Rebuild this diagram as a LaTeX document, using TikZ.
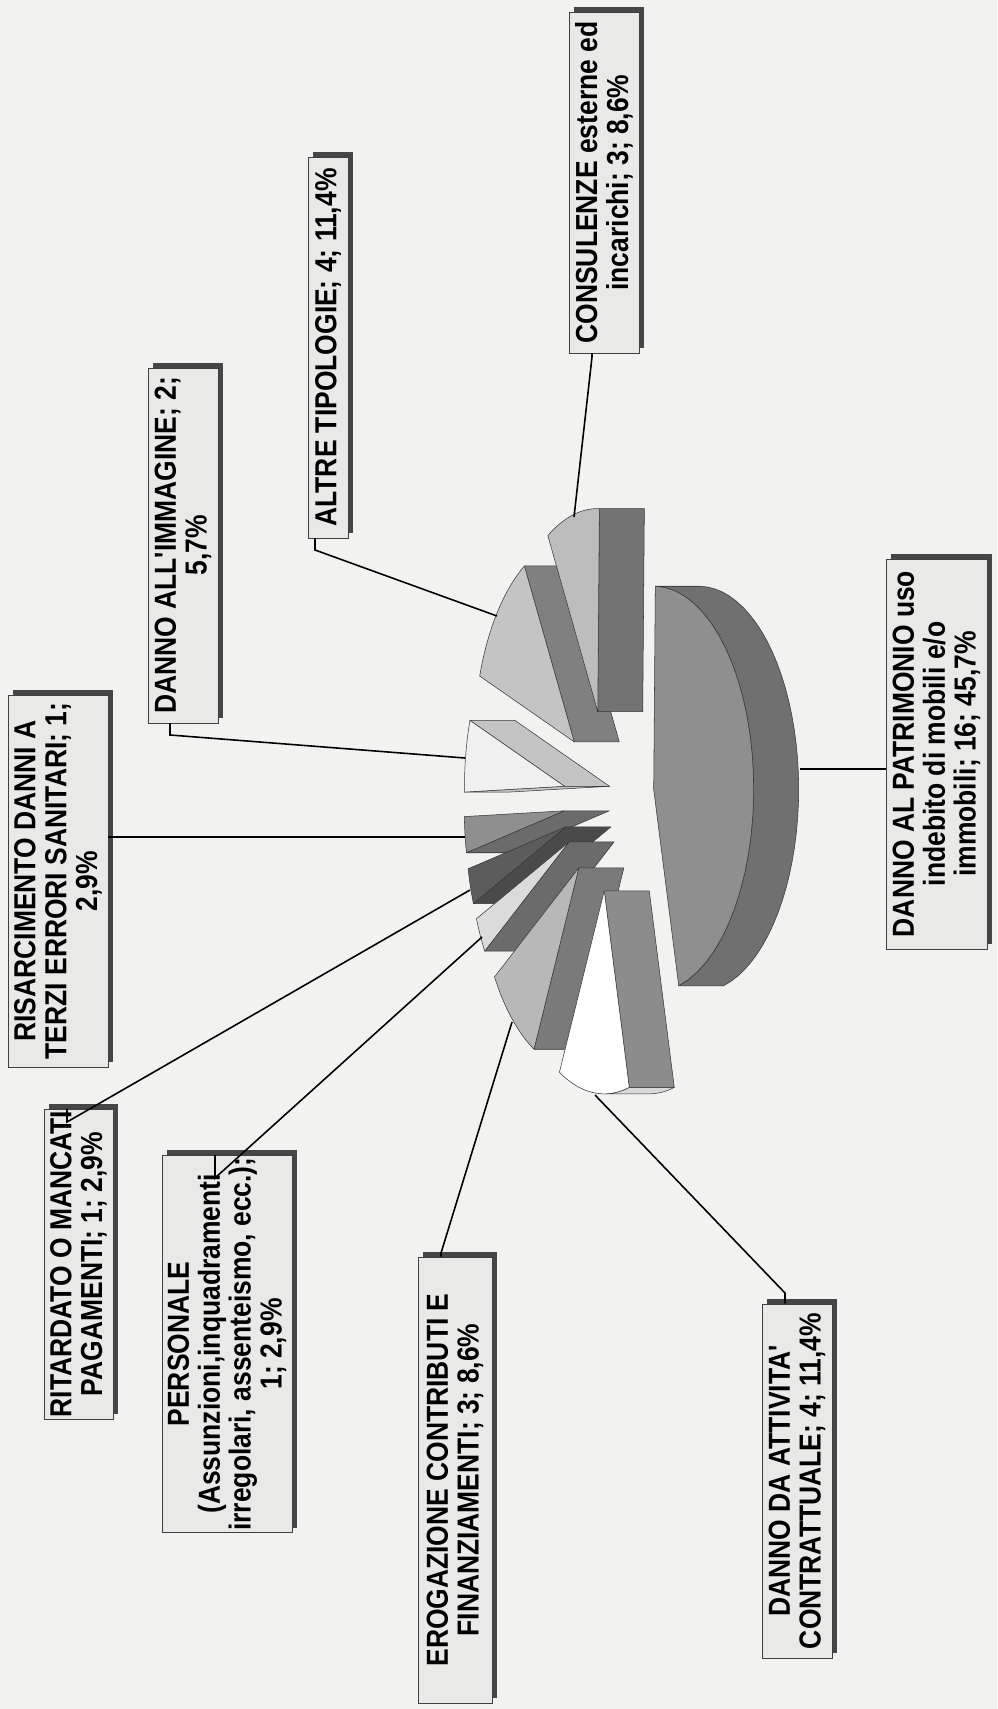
\documentclass[tikz,border=0pt]{standalone}
\usepackage{fontspec}
\newfontfamily\lblfont[FakeStretch=0.87]{Liberation Sans}
\usetikzlibrary{backgrounds}

\definecolor{paper}{RGB}{242,242,240}
\definecolor{boxfill}{RGB}{233,233,231}
\definecolor{boxshadow}{RGB}{70,70,70}
\definecolor{pieedge}{RGB}{55,55,55}

\tikzset{
  lbl/.style={draw=black!75,fill=boxfill,rotate=90,align=center,inner sep=1pt,line width=0.5pt,
    font=\lblfont\bfseries\fontsize{17.3}{17.6}\selectfont},
  leader/.style={line width=0.9pt},
  pieface/.style={draw=pieedge,line width=0.3pt,line join=round}
}

% exploded slice: start angle, end angle, top colour, wall colour
\newcommand\pieslice[4]{%
  \pgfmathsetmacro\midang{(#1+#2)/2}
  \pgfmathsetmacro\pcx{609+45*cos(\midang)}
  \pgfmathsetmacro\pcy{800-91.35*sin(\midang)}
  \pgfmathtruncatemacro\wallA{sin(#1)>0}
  \pgfmathtruncatemacro\wallB{sin(#2)<0}
  \ifnum\wallA=1
    \filldraw[pieface,fill=#4] (\pcx,\pcy) -- ++(45,0) -- ({\pcx+45+100*cos(#1)},{\pcy-203*sin(#1)})
      -- ({\pcx+100*cos(#1)},{\pcy-203*sin(#1)}) -- cycle;
  \fi
  \ifnum\wallB=1
    \filldraw[pieface,fill=#4] (\pcx,\pcy) -- ++(45,0) -- ({\pcx+45+100*cos(#2)},{\pcy-203*sin(#2)})
      -- ({\pcx+100*cos(#2)},{\pcy-203*sin(#2)}) -- cycle;
  \fi
  \filldraw[pieface,fill=#3] (\pcx,\pcy) -- plot[domain=#1:#2,samples=30] ({\pcx+100*cos(\x)},{\pcy-203*sin(\x)}) -- cycle;
}
% outer rim: from, to, middle angle of the slice, colour
\newcommand\pierim[4]{%
  \pgfmathsetmacro\pcx{609+45*cos(#3)}
  \pgfmathsetmacro\pcy{800-91.35*sin(#3)}
  \filldraw[pieface,fill=#4] plot[domain=#1:#2,samples=40] ({\pcx+100*cos(\x)},{\pcy-203*sin(\x)})
    -- plot[domain=#2:#1,samples=40] ({\pcx+45+100*cos(\x)},{\pcy-203*sin(\x)}) -- cycle;
}

\begin{document}
\begin{tikzpicture}[x=0.02cm,y=-0.02cm]
\useasboundingbox (0,0) rectangle (997,1709);

% pie, back to front
\pieslice{181.64}{191.93}{black!44}{black!58}
\pieslice{161.07}{181.64}{black!6}{black!23}
\pieslice{191.93}{202.21}{black!64}{black!71}
\pieslice{202.21}{212.5}{black!14}{black!58}
\pieslice{119.93}{161.07}{black!23}{black!50}
\pieslice{212.5}{243.36}{black!28}{black!52}
\pieslice{89.07}{119.93}{black!26}{black!55}
\pierim{270}{284.5}{263.93}{black!15}
\pieslice{243.36}{284.5}{white}{black!45}
\pierim{-75.5}{89.07}{6.785}{black!56}
\pieslice{-75.5}{89.07}{black!44}{black!56}

% labels
\node[lbl,minimum width=6.82cm,minimum height=1.4cm] (lcons) at (604,182.5) {CONSULENZE esterne ed\\incarichi; 3; 8,6\%};
\node[lbl,minimum width=7.62cm,minimum height=0.8cm] (laltre) at (328,347.5) {ALTRE TIPOLOGIE; 4; 11,4\%};
\node[lbl,minimum width=7.1cm,minimum height=1.4cm] (limm) at (183,545.5) {DANNO ALL'IMMAGINE; 2;\\5,7\%};
\node[lbl,minimum width=7.44cm,minimum height=2cm] (lrisarc) at (58,881) {RISARCIMENTO DANNI A\\TERZI ERRORI SANITARI; 1;\\2,9\%};
\node[lbl,minimum width=7.8cm,minimum height=2.02cm] (lpatr) at (936.5,754) {DANNO AL PATRIMONIO uso\\indebito di mobili e/o\\immobili; 16; 45,7\%};
\node[lbl,minimum width=5.24cm,minimum height=1.38cm] (lritard) at (78.5,1264) {RITARDATO O MANCATI\\PAGAMENTI; 1; 2,9\%};
\node[lbl,minimum width=6.24cm,minimum height=2.6cm] (lperson) at (227,1344) {PERSONALE\\(Assunzioni,inquadramenti\\irregolari, assenteismo, ecc.);\\1; 2,9\%};
\node[lbl,minimum width=8.92cm,minimum height=1.48cm] (lerog) at (455,1480) {EROGAZIONE CONTRIBUTI E\\FINANZIAMENTI; 3; 8,6\%};
\node[lbl,minimum width=7.08cm,minimum height=1.4cm] (latt) at (797,1481) {DANNO DA ATTIVITA'\\CONTRATTUALE; 4; 11,4\%};

% leader lines
\coordinate (pcons) at (574,517);
\coordinate (paltre) at (497,616);
\coordinate (pimm) at (465,758);
\coordinate (prisarc) at (465,837);
\coordinate (pritard) at (470,890);
\coordinate (pperson) at (482,937);
\coordinate (perog) at (512,1022);
\coordinate (patt) at (595,1095);
\coordinate (ppatr) at (800,769);
\coordinate (kcons) at (592,357);
\coordinate (kaltre) at (315,550);
\coordinate (kimm) at (170,735);
\coordinate (kritard) at (67,1122);
\coordinate (kperson) at (215,1178);
\coordinate (kerog) at (441,1253);
\coordinate (katt) at (785,1293);

\draw[leader] (pcons) -- (kcons) -- (kcons |- lcons.west);
\draw[leader] (paltre) -- (kaltre) -- (kaltre |- laltre.west);
\draw[leader] (pimm) -- (kimm) -- (kimm |- limm.west);
\draw[leader] (prisarc) -- (lrisarc.south |- prisarc);
\draw[leader] (ppatr) -- (lpatr.north |- ppatr);
\draw[leader] (pritard) -- (kritard) -- (kritard |- lritard.east);
\draw[leader] (pperson) -- (kperson) -- (kperson |- lperson.east);
\draw[leader] (perog) -- (kerog) -- (kerog |- lerog.east);
\draw[leader] (patt) -- (katt) -- (katt |- latt.east);

\begin{scope}[on background layer]
  \fill[paper] (0,0) rectangle (997,1709);
  \foreach \b in {lcons,laltre,limm,lrisarc,lpatr,lritard,lperson,lerog,latt}
    \fill[boxshadow] ([shift={(0.1cm,0.1cm)}]\b.south west) rectangle ([shift={(0.1cm,0.1cm)}]\b.north east);
\end{scope}
\end{tikzpicture}
\end{document}
